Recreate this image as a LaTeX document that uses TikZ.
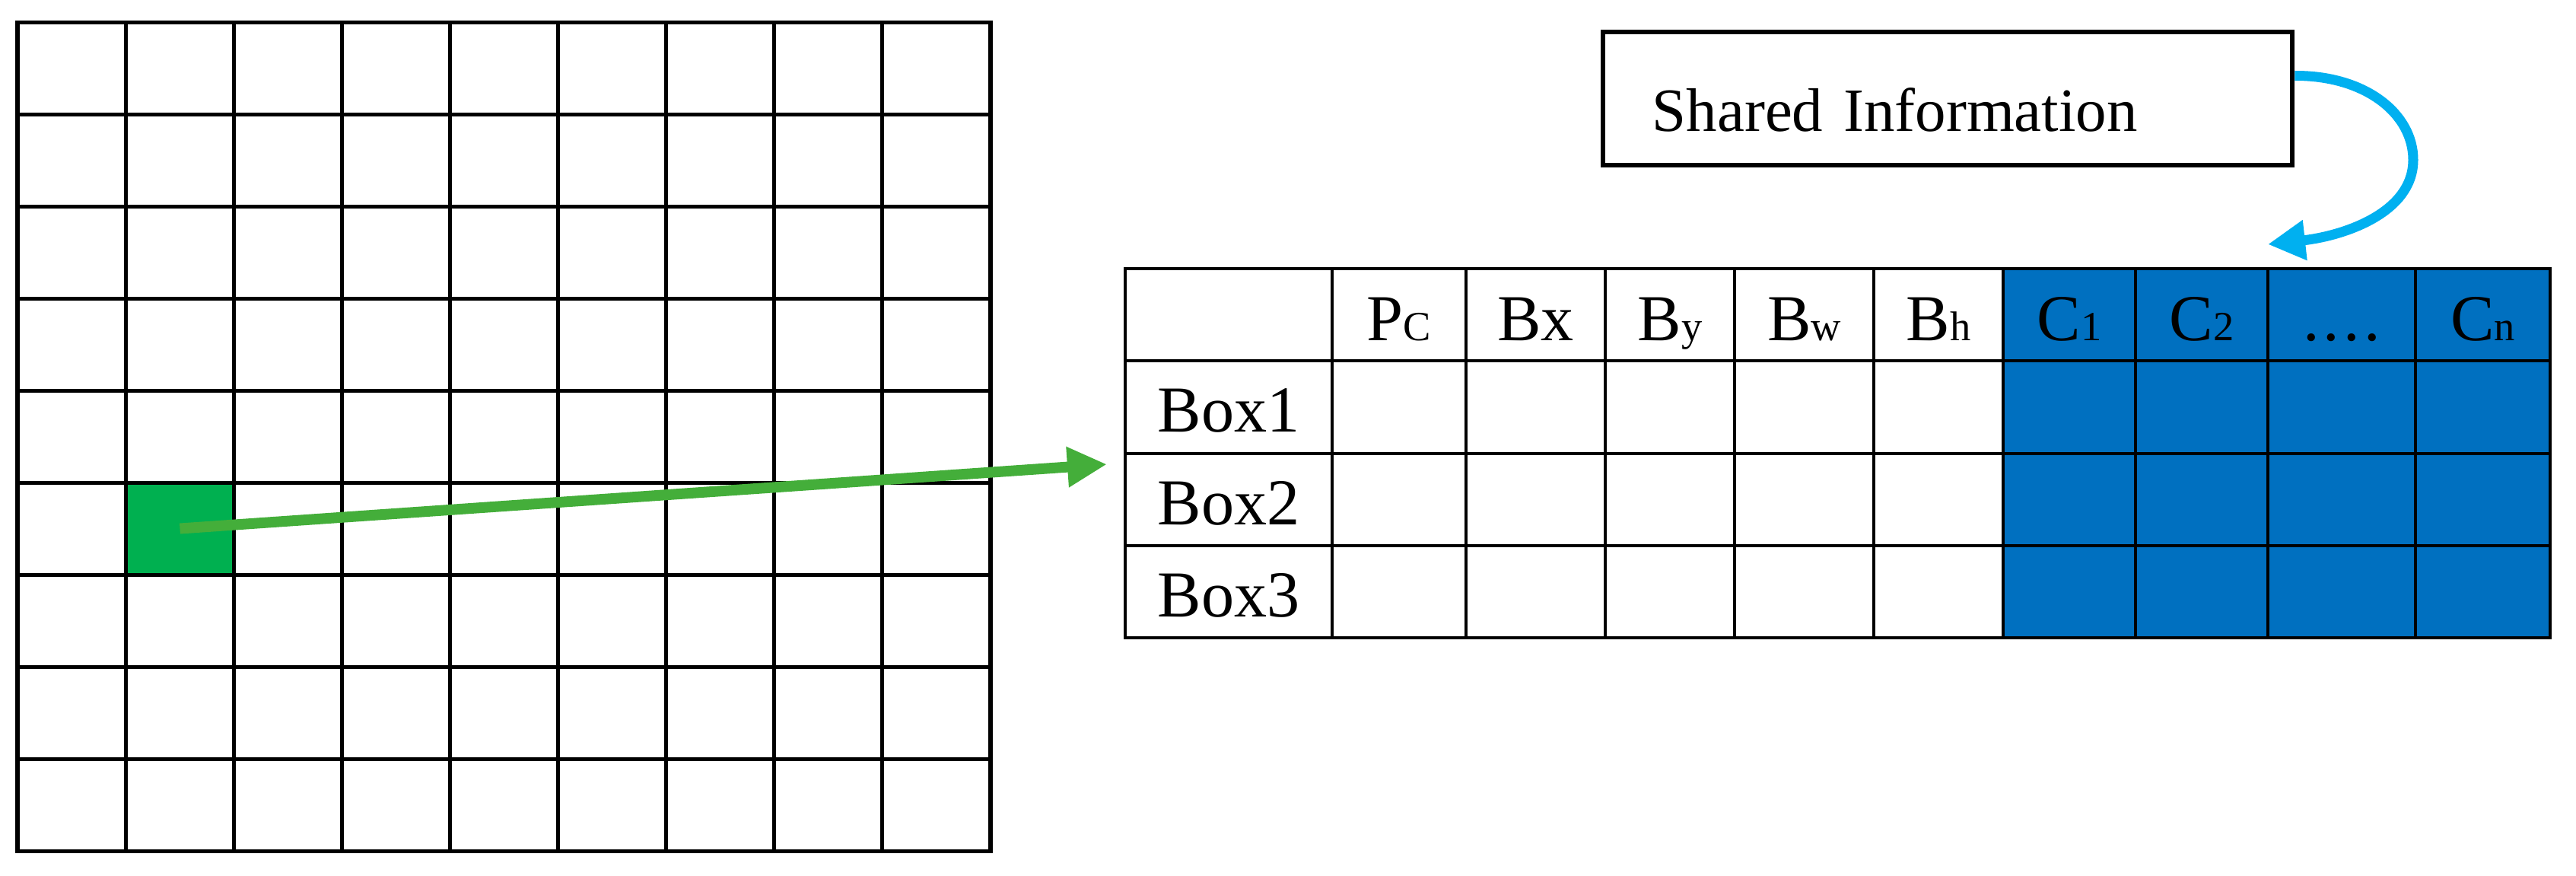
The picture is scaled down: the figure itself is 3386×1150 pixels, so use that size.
\documentclass[tikz,border=0pt]{standalone}
\usepackage{fontspec}
\setmainfont{Liberation Serif}
\usetikzlibrary{arrows.meta}
\definecolor{cellgreen}{RGB}{0,176,80}
\definecolor{arrowgreen}{RGB}{68,174,58}
\definecolor{clsblue}{RGB}{0,112,192}
\definecolor{sharecyan}{RGB}{0,176,240}
\newcommand{\bigf}{\fontsize{24.5}{29}\selectfont}
\newcommand{\smallf}{\fontsize{15.5}{18}\selectfont}
\begin{document}
\begin{tikzpicture}[x=0.01cm, y=-0.01cm,
  gridline/.style={line width=0.5mm, line cap=rect},
  tabline/.style={line width=0.47mm, line cap=rect},
  lab/.style={anchor=base, inner sep=0pt, font=\bigf},
  sharedbox/.style={draw, line width=0.62mm, minimum width=90.6mm, minimum height=17.5mm,
    text width=77.6mm, inner xsep=6.5mm, inner ysep=0pt, align=left,
    text height=8.5mm, text depth=0pt, font=\fontsize{23}{27}\selectfont},
  garrow/.style={draw=arrowgreen, line width=1.4mm, -{Triangle[length=5.2mm,width=5mm]}, arrowgreen},
  carrow/.style={draw=sharecyan, line width=1.3mm, -{Triangle[length=4.9mm,width=5mm]}, sharecyan}]
\useasboundingbox (0,0) rectangle (3386,1150);

% left grid
\node[fill=cellgreen, draw=none, minimum width=14.2mm, minimum height=12.1mm, inner sep=0pt] (gcell) at (236.5,694.5) {};
\foreach \i in {0,...,9} {
  \draw[gridline] ({23+\i*142.11},29) -- ({23+\i*142.11},1118);
  \draw[gridline] (23,{29+\i*121}) -- (1302,{29+\i*121});
}

% table
\fill[clsblue] (2633,353) rectangle (3352,838);
\foreach \x in {1479,1751,1927,2110,2280,2463,2633,2807,2981,3175,3352}
  \draw[tabline] (\x,353) -- (\x,838);
\foreach \y in {353,474,596,717,838}
  \draw[tabline] (1479,\y) -- (3352,\y);

\node[lab] (hpc) at (1839,447) {P{\smallf C}};
\node[lab] (hbx) at (2018.5,447) {Bx};
\node[lab] (hby) at (2195,447) {B{\smallf y}};
\node[lab] (hbw) at (2371.5,447) {B{\smallf w}};
\node[lab] (hbh) at (2548,447) {B{\smallf h}};
\node[lab] (hc1) at (2720,447) {C{\smallf 1}};
\node[lab] (hc2) at (2894,447) {C{\smallf 2}};
\node[lab] (hdots) at (3078,447) {.\kern1.5pt.\kern1.5pt.\kern1.5pt.};
\node[lab] (hcn) at (3263.5,447) {C{\smallf n}};
\node[lab] (box1) at (1615,567) {Box1};
\node[lab] (box2) at (1615,689) {Box2};
\node[lab] (box3) at (1615,810) {Box3};

% shared information box
\node[sharedbox] (shared) at (2560,129.5) {Shared Information};

% arrows
\coordinate (gtip) at (1455,610);
\draw[garrow] (gcell.center) -- (gtip);
\coordinate (ctip) at (2981,321);
\draw[carrow] ([yshift=3mm]shared.east) .. controls (3110,99) and (3172,150) .. (3172,210)
  .. controls (3172,280) and (3080,310) .. (ctip);
\end{tikzpicture}
\end{document}
